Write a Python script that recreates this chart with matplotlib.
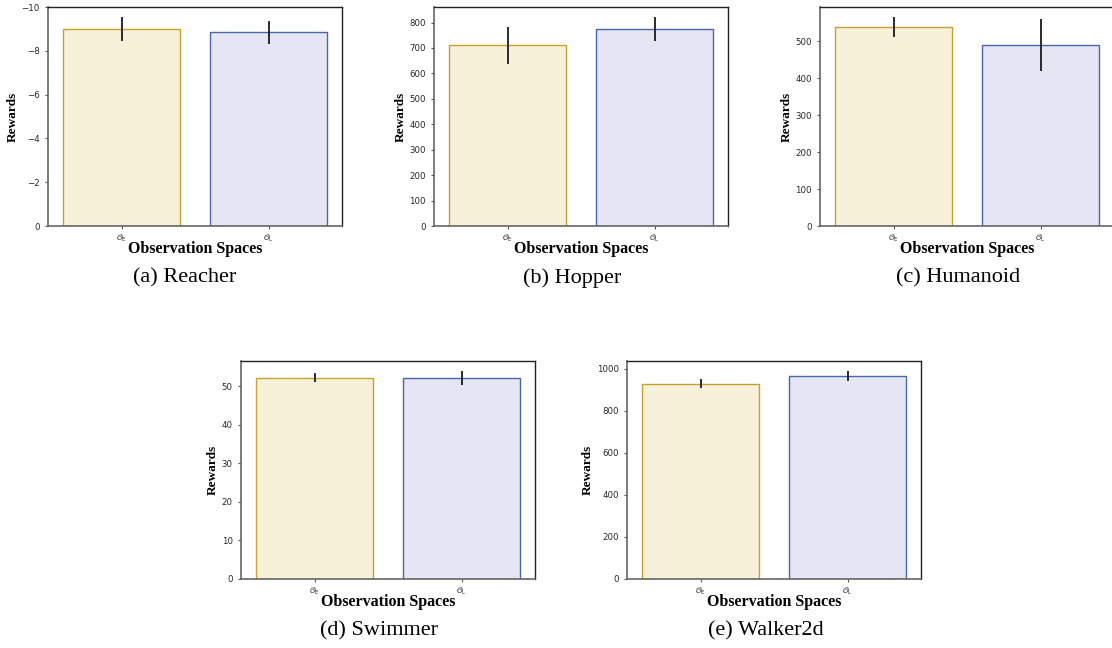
import numpy as np
import matplotlib.pyplot as plt

spaces = [r"$\mathcal{O}_{\mathrm{E}}$", r"$\mathcal{O}_{\mathrm{L}}$"]

envs = ["Reacher", "Hopper", "Humanoid", "Swimmer", "Walker2d"]
reacher_mean = [-9.0, -8.85]
reacher_err = [0.53, 0.52]
hopper_mean = [710, 774]
hopper_err = [74, 46]
humanoid_mean = [539, 491]
humanoid_err = [26, 70]
swimmer_mean = [52.2, 52.1]
swimmer_err = [1.2, 1.7]
walker_mean = [930, 965]
walker_err = [22, 23]

means = [reacher_mean, hopper_mean, humanoid_mean, swimmer_mean, walker_mean]
errs = [reacher_err, hopper_err, humanoid_err, swimmer_err, walker_err]
letters = ["a", "b", "c", "d", "e"]

fill_colors = ["#f7f1da", "#e5e5f3"]
edge_colors = ["#c9a030", "#4a66a8"]

W, H = 1112, 648
fig = plt.figure(figsize=(W / 100, H / 100), dpi=100)

# axes boxes in pixels: left, top, right, bottom
boxes = [
    (48, 7, 342, 226),
    (434, 7, 728, 226),
    (820, 7, 1114, 226),
    (241, 361, 535, 579),
    (627, 361, 921, 579),
]
captions_xy = [(185, 278), (572, 278), (958, 278), (379, 631), (766, 631)]

for i, env in enumerate(envs):
    l, t, r, b = boxes[i]
    ax = fig.add_axes([l / W, 1 - b / H, (r - l) / W, (b - t) / H])
    x = np.arange(len(spaces))
    ax.bar(x, means[i], width=0.8, color=fill_colors, edgecolor=edge_colors,
           linewidth=1.0, yerr=errs[i],
           error_kw=dict(ecolor="#1a1a1a", elinewidth=1.3, capsize=0))
    ax.set_xlim(-0.5, 1.5)
    if env == "Reacher":
        ax.invert_yaxis()
    ax.set_xticks(x)
    ax.set_xticklabels(spaces, fontsize=5.5)
    ax.tick_params(axis="y", labelsize=6.2, length=2.5, width=0.8,
                   colors="#555555", labelcolor="#262626")
    ax.tick_params(axis="x", length=2.5, width=0.8, colors="#555555",
                   labelcolor="#262626", pad=2)
    for side in ["left", "bottom"]:
        ax.spines[side].set_color("#666666")
        ax.spines[side].set_linewidth(1.2)
    for side in ["right", "top"]:
        ax.spines[side].set_color("#222222")
        ax.spines[side].set_linewidth(1.0)
    ax.set_xlabel("Observation Spaces", fontsize=11.5, fontweight="bold",
                  family="Liberation Serif", labelpad=-2)
    ax.set_ylabel("Rewards", fontsize=9.5, fontweight="bold",
                  family="Liberation Serif", labelpad=2)
    cx, cy = captions_xy[i]
    fig.text(cx / W, 1 - cy / H, f"({letters[i]}) {env}", ha="center", va="center",
             fontsize=16, family="Liberation Serif")

fig.savefig("out.png", dpi=100)
